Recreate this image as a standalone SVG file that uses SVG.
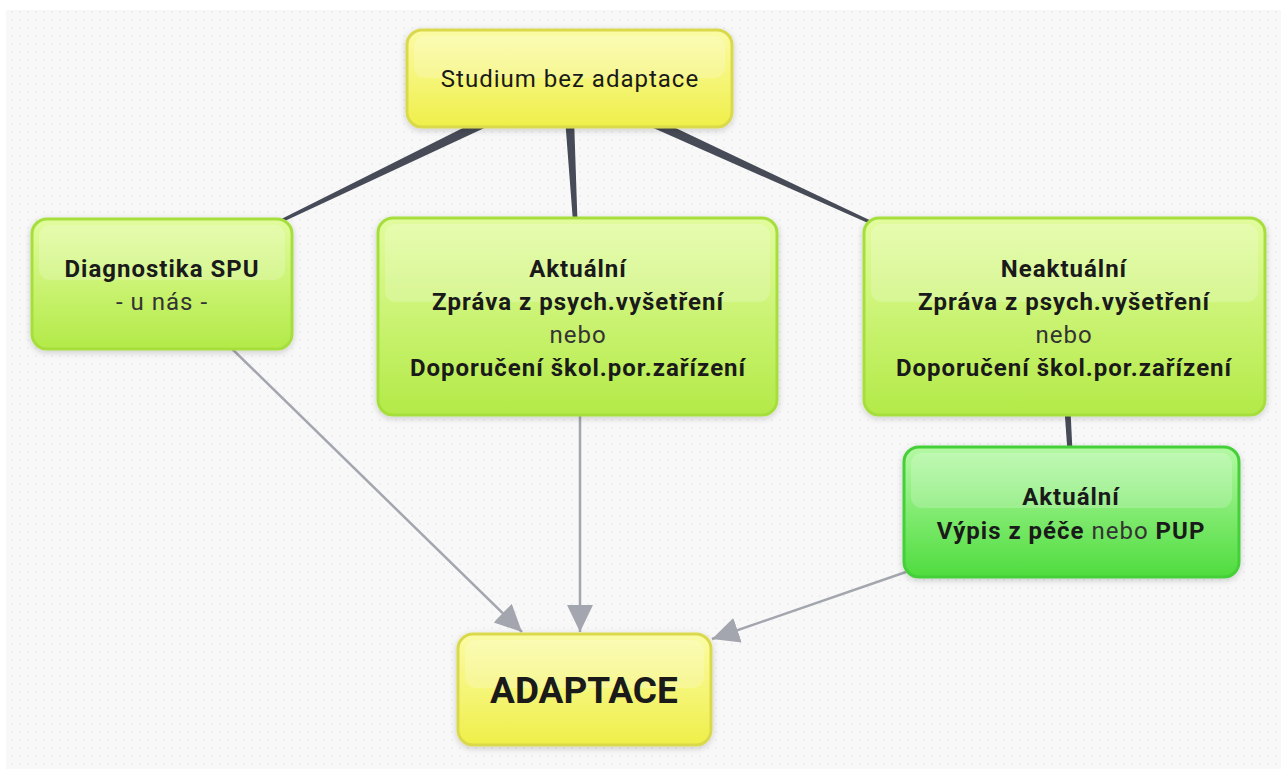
<svg xmlns="http://www.w3.org/2000/svg" width="1281" height="769" viewBox="0 0 1281 769">
<defs>
<pattern id="dots" width="8" height="8" patternUnits="userSpaceOnUse">
<rect width="8" height="8" fill="#f8f8f8"/>
<circle cx="4" cy="4" r="1" fill="#ececec"/>
</pattern>
<linearGradient id="gYellow" x1="0" y1="0" x2="0" y2="1">
<stop offset="0" stop-color="#fbfba6"/>
<stop offset="1" stop-color="#efef4a"/>
</linearGradient>
<linearGradient id="gGreen" x1="0" y1="0" x2="0" y2="1">
<stop offset="0" stop-color="#e2fc9e"/>
<stop offset="1" stop-color="#b3ea48"/>
</linearGradient>
<linearGradient id="gBright" x1="0" y1="0" x2="0" y2="1">
<stop offset="0" stop-color="#b4f9a4"/>
<stop offset="1" stop-color="#4fdc3e"/>
</linearGradient>
<filter id="shadow" x="-10%" y="-10%" width="120%" height="130%">
<feDropShadow dx="0" dy="2" stdDeviation="3" flood-color="#000" flood-opacity="0.18"/>
</filter>
<marker id="arrow" markerUnits="userSpaceOnUse" markerWidth="30" markerHeight="30" refX="27" refY="13" orient="auto">
<path d="M0,0 L27,13 L0,26 Z" fill="#a3a6ae"/>
</marker>
</defs>
<style>
.node rect.box { filter: url(#shadow); }
.yellow .box { fill: url(#gYellow); stroke: #d9d94c; stroke-width: 3; }
.green .box { fill: url(#gGreen); stroke: #a6df3c; stroke-width: 3; }
.bright .box { fill: url(#gBright); stroke: #45cf38; stroke-width: 3; }
.gloss { fill: #ffffff; opacity: 0.2; }
text { font-family: Roboto, "Liberation Sans", sans-serif; fill: #1a1a1a; text-anchor: middle; }
.b { font-weight: bold; }
.r { font-weight: normal; fill: #333; }
.t { font-size: 24px; letter-spacing: 1px; }
.thick { fill: #474b57; }
.arr { stroke: #a3a6ae; stroke-width: 2.5; fill: none; marker-end: url(#arrow); }
</style>
<rect x="0" y="0" width="1281" height="769" fill="#ffffff"/>
<rect x="6" y="10" width="1275" height="759" fill="url(#dots)"/>

<g id="connectors">
<polygon class="thick" points="496.2,122.5 283.7,221.4 282.3,218.6 491.8,113.5"/>
<polygon class="thick" points="565,118 574,118 577.5,222 573,222"/>
<polygon class="thick" points="645.1,113.5 872.6,221.6 871.4,224.4 640.9,122.5"/>
<polygon class="thick" points="1064.5,410 1070.5,410 1072.5,452 1067.5,452"/>
<line class="arr" x1="225" y1="342" x2="522" y2="632"/>
<line class="arr" x1="580" y1="412" x2="580" y2="632"/>
<line class="arr" x1="906" y1="572" x2="712" y2="639"/>
</g>

<g id="n-studium" class="node yellow">
<rect class="box" x="407" y="30" width="325" height="97" rx="15"/>
<rect class="gloss" x="414" y="36" width="311" height="42" rx="11"/>
<text class="t" x="570" y="87">Studium bez adaptace</text>
</g>

<g id="n-diagnostika" class="node green">
<rect class="box" x="32" y="219" width="260" height="130" rx="15"/>
<rect class="gloss" x="39" y="225" width="246" height="55" rx="11"/>
<text class="t b" x="162" y="277">Diagnostika SPU</text>
<text class="t r" x="162" y="310">- u nás -</text>
</g>

<g id="n-aktualni" class="node green">
<rect class="box" x="378" y="218" width="399" height="197" rx="15"/>
<rect class="gloss" x="385" y="224" width="385" height="78" rx="11"/>
<text class="t b" x="578" y="277">Aktuální</text>
<text class="t b" x="578" y="310">Zpráva z psych.vyšetření</text>
<text class="t r" x="578" y="343">nebo</text>
<text class="t b" x="578" y="376">Doporučení škol.por.zařízení</text>
</g>

<g id="n-neaktualni" class="node green">
<rect class="box" x="864" y="218" width="401" height="197" rx="15"/>
<rect class="gloss" x="871" y="224" width="387" height="78" rx="11"/>
<text class="t b" x="1064" y="277">Neaktuální</text>
<text class="t b" x="1064" y="310">Zpráva z psych.vyšetření</text>
<text class="t r" x="1064" y="343">nebo</text>
<text class="t b" x="1064" y="376">Doporučení škol.por.zařízení</text>
</g>

<g id="n-vypis" class="node bright">
<rect class="box" x="904" y="447" width="335" height="130" rx="15"/>
<rect class="gloss" x="911" y="453" width="321" height="55" rx="11"/>
<text class="t b" x="1071" y="505">Aktuální</text>
<text class="t" x="1071" y="539"><tspan class="b">Výpis z péče</tspan><tspan class="r"> nebo </tspan><tspan class="b">PUP</tspan></text>
</g>

<g id="n-adaptace" class="node yellow">
<rect class="box" x="458" y="634" width="253" height="111" rx="15"/>
<rect class="gloss" x="465" y="640" width="239" height="48" rx="11"/>
<text class="b" x="584" y="703" font-size="37">ADAPTACE</text>
</g>
</svg>
